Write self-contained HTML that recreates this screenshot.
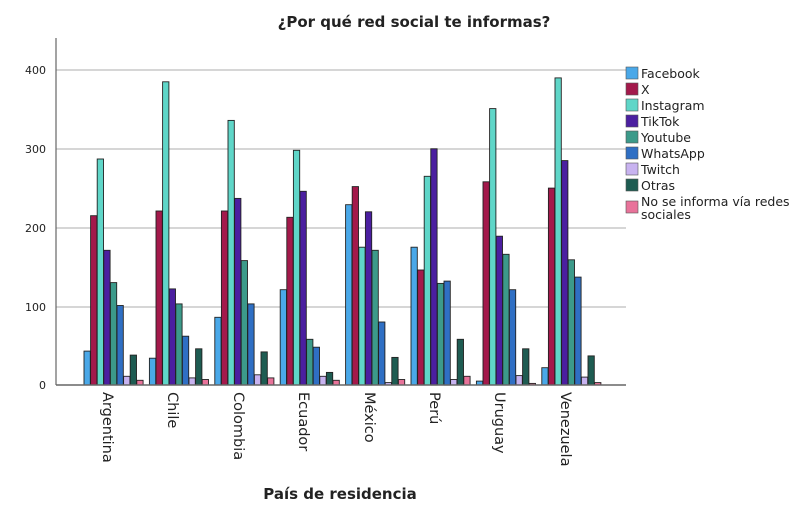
<!DOCTYPE html>
<html><head><meta charset="utf-8"><style>
html,body{margin:0;padding:0;background:#fff;width:800px;height:530px;overflow:hidden}
svg text{font-family:"DejaVu Sans","Liberation Sans",sans-serif;fill:#222}
</style></head><body>
<svg id="s" width="800" height="530" xmlns="http://www.w3.org/2000/svg">
<text x="414" y="27" text-anchor="middle" font-size="15" font-weight="bold">¿Por qué red social te informas?</text>
<g stroke="#c8c8c8" stroke-width="1.5">
<line x1="56" y1="70" x2="626" y2="70"/><line x1="56" y1="149" x2="626" y2="149"/>
<line x1="56" y1="228" x2="626" y2="228"/><line x1="56" y1="307" x2="626" y2="307"/>
</g>
<g font-size="11" text-anchor="end">
<text x="46" y="74">400</text><text x="46" y="153">300</text><text x="46" y="232">200</text><text x="46" y="311">100</text><text x="46" y="389">0</text>
</g>
<g id="bars" stroke="#222" stroke-width="0.9"></g>
<line x1="56" y1="38" x2="56" y2="385" stroke="#666" stroke-width="1.2"/>
<line x1="56" y1="385" x2="626" y2="385" stroke="#666" stroke-width="1.5"/>
<g font-size="14.5">
<text transform="translate(103,392) rotate(90)">Argentina</text>
<text transform="translate(168,392) rotate(90)">Chile</text>
<text transform="translate(234,392) rotate(90)">Colombia</text>
<text transform="translate(299,392) rotate(90)">Ecuador</text>
<text transform="translate(365,392) rotate(90)">México</text>
<text transform="translate(430,392) rotate(90)">Perú</text>
<text transform="translate(495,392) rotate(90)">Uruguay</text>
<text transform="translate(561,392) rotate(90)">Venezuela</text>
</g>
<text x="340" y="499" text-anchor="middle" font-size="15" font-weight="bold">País de residencia</text>
<g font-size="12.5">
<rect x="626" y="67" width="12" height="12" fill="#4aa8e8" stroke="#555" stroke-width=".6"/><text x="641" y="78">Facebook</text>
<rect x="626" y="83" width="12" height="12" fill="#a3194b" stroke="#555" stroke-width=".6"/><text x="641" y="94">X</text>
<rect x="626" y="99" width="12" height="12" fill="#5fd6c8" stroke="#555" stroke-width=".6"/><text x="641" y="110">Instagram</text>
<rect x="626" y="115" width="12" height="12" fill="#4b1fa0" stroke="#555" stroke-width=".6"/><text x="641" y="126">TikTok</text>
<rect x="626" y="131" width="12" height="12" fill="#3c9a8a" stroke="#555" stroke-width=".6"/><text x="641" y="142">Youtube</text>
<rect x="626" y="147" width="12" height="12" fill="#2f6fc4" stroke="#555" stroke-width=".6"/><text x="641" y="158">WhatsApp</text>
<rect x="626" y="163" width="12" height="12" fill="#c8b3f0" stroke="#555" stroke-width=".6"/><text x="641" y="174">Twitch</text>
<rect x="626" y="179" width="12" height="12" fill="#1e5c52" stroke="#555" stroke-width=".6"/><text x="641" y="190">Otras</text>
<rect x="626" y="201" width="12" height="12" fill="#e8739a" stroke="#555" stroke-width=".6"/><text x="641" y="206">No se informa vía redes</text><text x="641" y="219">sociales</text>
</g>
</svg>
<script>
var cols=["#4aa8e8","#a3194b","#5fd6c8","#4b1fa0","#3c9a8a","#2f6fc4","#c8b3f0","#1e5c52","#e8739a"];
var d=[[43,215,287,171,130,101,11,38,6],[34,221,385,122,103,62,9,46,7],[86,221,336,237,158,103,13,42,9],[121,213,298,246,58,48,11,16,6],[229,252,175,220,171,80,3,35,7],[175,146,265,300,129,132,7,58,11],[5,258,351,189,166,121,12,46,2],[22,250,390,285,159,137,10,37,3]];
var g=document.getElementById("bars"),h="";
for(var i=0;i<8;i++)for(var j=0;j<9;j++){var v=d[i][j],x=84+i*65.4+j*6.6,hh=v*0.7875;
h+='<rect x="'+x.toFixed(1)+'" y="'+(385-hh).toFixed(1)+'" width="6.3" height="'+hh.toFixed(1)+'" fill="'+cols[j]+'"/>';}
g.innerHTML=h;
</script>
</body></html>
